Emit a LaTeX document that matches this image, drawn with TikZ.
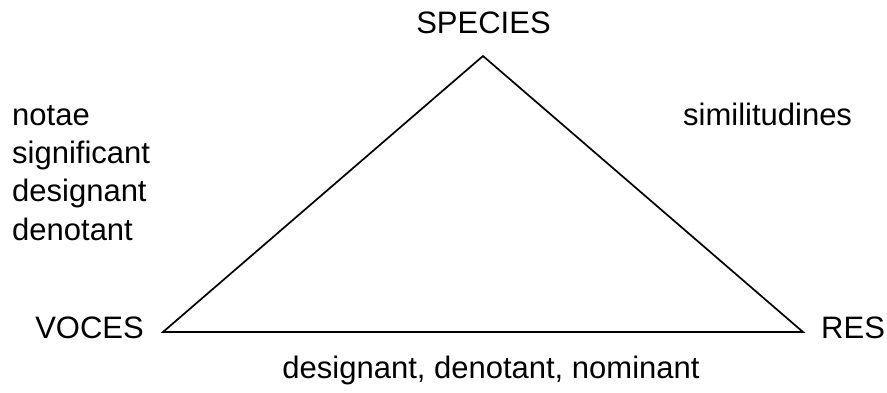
\documentclass[tikz,border=0pt]{standalone}
\usepackage{fontspec}
\setmainfont{Liberation Sans}
\usetikzlibrary{positioning}

\begin{document}
\begin{tikzpicture}[
  x=1pt,y=-1pt,
  lbl/.style={inner sep=0pt,font=\fontsize{31}{38.3}\selectfont},
  side/.style={line width=1.7pt,line join=miter},
]
\useasboundingbox (0,0) rectangle (887,392);
% corners
\coordinate (top)   at (483,56);
\coordinate (left)  at (163,332);
\coordinate (right) at (803,332);
\draw[side] (left) -- (top) -- (right) -- cycle;
% corner labels
\node[lbl,anchor=base] (species) at (483.5,33) {SPECIES};
\node[lbl,anchor=base east] (voces) at (144,338) {VOCES};
\node[lbl,anchor=base west] (res) at (821,338) {RES};
% side labels
\node[lbl,anchor=base west,align=left] (notae) at (12,240)
  {notae\\significant\\designant\\denotant};
\node[lbl,anchor=base west] (simil) at (683,125) {similitudines};
\node[lbl,anchor=base] (nomin) at (491,378) {designant, denotant, nominant};
\end{tikzpicture}
\end{document}
